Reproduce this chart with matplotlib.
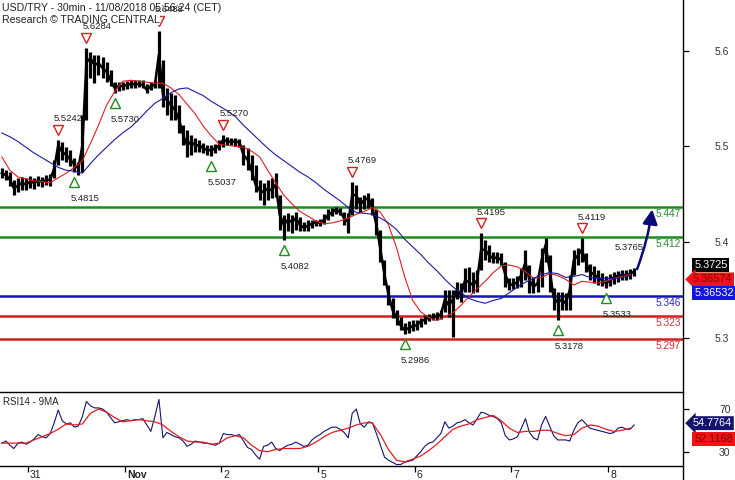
import numpy as np
import matplotlib
matplotlib.use("Agg")
import matplotlib.pyplot as plt
from matplotlib import transforms
from matplotlib.lines import Line2D
from matplotlib.patches import FancyArrowPatch

plt.rcParams['font.family'] = ['Liberation Sans', 'DejaVu Sans']

# ---------------- data ----------------
START_HOUR = -6.5          # first (hourly) bar, hours from Oct 31 00:00
closes = [5.472, 5.470, 5.465, 5.456, 5.459, 5.462, 5.460, 5.463, 5.462, 5.464,
          5.463, 5.465, 5.465, 5.477, 5.501, 5.494, 5.491, 5.486, 5.481, 5.477,
          5.501, 5.588, 5.592, 5.585, 5.587, 5.582, 5.578, 5.569, 5.561, 5.563,
          5.563, 5.564, 5.565, 5.565, 5.565, 5.564, 5.559, 5.563, 5.564, 5.596,
          5.554, 5.548, 5.543, 5.538, 5.528, 5.512, 5.501, 5.505, 5.501, 5.501,
          5.498, 5.496, 5.496, 5.498, 5.501, 5.507, 5.505, 5.505, 5.505, 5.504,
          5.491, 5.486, 5.475, 5.460, 5.454, 5.452, 5.456, 5.454, 5.460, 5.428,
          5.418, 5.423, 5.421, 5.425, 5.418, 5.415, 5.417, 5.419, 5.421, 5.420,
          5.423, 5.428, 5.431, 5.434, 5.431, 5.425, 5.421, 5.449, 5.449, 5.439,
          5.444, 5.446, 5.436, 5.418, 5.392, 5.366, 5.345, 5.329, 5.321, 5.313,
          5.308, 5.310, 5.312, 5.313, 5.317, 5.319, 5.321, 5.321, 5.323, 5.324,
          5.340, 5.334, 5.340, 5.350, 5.345, 5.360, 5.358, 5.355, 5.360, 5.392,
          5.392, 5.386, 5.383, 5.384, 5.381, 5.366, 5.355, 5.356, 5.358, 5.366,
          5.379, 5.360, 5.353, 5.357, 5.381, 5.397, 5.371, 5.342, 5.337, 5.340,
          5.336, 5.350, 5.381, 5.386, 5.392, 5.379, 5.369, 5.366, 5.363, 5.360,
          5.357, 5.360, 5.363, 5.365, 5.366, 5.365, 5.367, 5.369]
highs = [5.477, 5.475, 5.473, 5.465, 5.467, 5.468, 5.467, 5.469, 5.467, 5.469,
         5.468, 5.470, 5.471, 5.486, 5.507, 5.504, 5.499, 5.496, 5.488, 5.484,
         5.533, 5.603, 5.599, 5.595, 5.595, 5.593, 5.588, 5.580, 5.567, 5.567,
         5.567, 5.568, 5.569, 5.569, 5.569, 5.569, 5.565, 5.567, 5.569, 5.621,
         5.590, 5.561, 5.556, 5.554, 5.543, 5.522, 5.517, 5.512, 5.509, 5.507,
         5.503, 5.501, 5.501, 5.502, 5.507, 5.512, 5.510, 5.509, 5.509, 5.508,
         5.501, 5.498, 5.491, 5.481, 5.465, 5.462, 5.465, 5.467, 5.472, 5.449,
         5.428, 5.430, 5.428, 5.431, 5.426, 5.421, 5.423, 5.423, 5.423, 5.424,
         5.429, 5.434, 5.436, 5.437, 5.436, 5.431, 5.430, 5.463, 5.460, 5.447,
         5.449, 5.451, 5.446, 5.434, 5.413, 5.381, 5.355, 5.342, 5.329, 5.322,
         5.315, 5.317, 5.319, 5.319, 5.321, 5.324, 5.325, 5.326, 5.327, 5.329,
         5.350, 5.350, 5.350, 5.358, 5.357, 5.373, 5.374, 5.369, 5.371, 5.409,
         5.402, 5.397, 5.390, 5.390, 5.389, 5.379, 5.362, 5.362, 5.365, 5.373,
         5.392, 5.376, 5.363, 5.366, 5.394, 5.404, 5.386, 5.352, 5.348, 5.348,
         5.347, 5.366, 5.392, 5.394, 5.404, 5.389, 5.377, 5.375, 5.371, 5.368,
         5.365, 5.367, 5.369, 5.370, 5.371, 5.371, 5.372, 5.373]
lows = [5.467, 5.465, 5.459, 5.449, 5.452, 5.454, 5.454, 5.456, 5.455, 5.459,
        5.458, 5.460, 5.459, 5.467, 5.481, 5.486, 5.484, 5.479, 5.473, 5.470,
        5.473, 5.528, 5.571, 5.566, 5.575, 5.571, 5.567, 5.563, 5.556, 5.558,
        5.559, 5.560, 5.561, 5.561, 5.562, 5.561, 5.556, 5.559, 5.561, 5.561,
        5.541, 5.533, 5.528, 5.528, 5.514, 5.501, 5.489, 5.491, 5.494, 5.494,
        5.493, 5.491, 5.490, 5.493, 5.496, 5.499, 5.501, 5.501, 5.500, 5.499,
        5.481, 5.475, 5.465, 5.452, 5.444, 5.439, 5.444, 5.446, 5.447, 5.413,
        5.402, 5.411, 5.409, 5.413, 5.411, 5.411, 5.411, 5.415, 5.417, 5.417,
        5.419, 5.423, 5.427, 5.429, 5.428, 5.418, 5.409, 5.428, 5.434, 5.431,
        5.434, 5.436, 5.428, 5.407, 5.379, 5.355, 5.334, 5.321, 5.313, 5.308,
        5.304, 5.305, 5.307, 5.308, 5.311, 5.314, 5.317, 5.318, 5.319, 5.320,
        5.327, 5.322, 5.301, 5.340, 5.337, 5.348, 5.348, 5.347, 5.348, 5.371,
        5.381, 5.379, 5.378, 5.378, 5.376, 5.353, 5.350, 5.351, 5.352, 5.353,
        5.360, 5.347, 5.347, 5.348, 5.353, 5.379, 5.348, 5.329, 5.319, 5.329,
        5.329, 5.329, 5.366, 5.376, 5.379, 5.369, 5.360, 5.357, 5.355, 5.354,
        5.352, 5.354, 5.356, 5.358, 5.360, 5.360, 5.361, 5.364]
# moving averages (sampled every second bar)
ma_fast = [5.489, 5.475, 5.468, 5.466, 5.464, 5.463, 5.462, 5.467, 5.472, 5.478,
           5.485, 5.503, 5.522, 5.543, 5.557, 5.568, 5.569, 5.568, 5.567, 5.566,
           5.566, 5.561, 5.554, 5.544, 5.534, 5.521, 5.511, 5.502, 5.501, 5.500,
           5.499, 5.495, 5.489, 5.475, 5.462, 5.449, 5.440, 5.432, 5.427, 5.422,
           5.419, 5.420, 5.422, 5.425, 5.429, 5.432, 5.436, 5.431, 5.418, 5.394,
           5.364, 5.339, 5.327, 5.321, 5.318, 5.322, 5.326, 5.334, 5.343, 5.351,
           5.359, 5.368, 5.375, 5.376, 5.374, 5.369, 5.362, 5.363, 5.367, 5.365,
           5.361, 5.355, 5.359, 5.358, 5.357, 5.359, 5.362, 5.364, 5.366]
ma_slow = [5.514, 5.510, 5.505, 5.499, 5.493, 5.488, 5.483, 5.478, 5.475, 5.474,
           5.472, 5.482, 5.491, 5.499, 5.507, 5.514, 5.520, 5.528, 5.537, 5.545,
           5.550, 5.556, 5.560, 5.561, 5.557, 5.553, 5.547, 5.542, 5.537, 5.531,
           5.522, 5.514, 5.506, 5.498, 5.491, 5.485, 5.479, 5.473, 5.468, 5.462,
           5.455, 5.449, 5.443, 5.436, 5.431, 5.430, 5.429, 5.425, 5.420, 5.413,
           5.403, 5.395, 5.387, 5.378, 5.370, 5.361, 5.353, 5.347, 5.341, 5.338,
           5.336, 5.339, 5.341, 5.347, 5.353, 5.358, 5.362, 5.366, 5.368, 5.367,
           5.363, 5.364, 5.366, 5.363, 5.362, 5.362, 5.362, 5.363, 5.365]
rsi = [38, 40, 36, 33, 38, 39, 37, 39, 42, 46,
       44, 43, 47, 57, 69, 59, 56, 57, 53, 54,
       63, 77, 73, 71, 71, 70, 67, 62, 57, 58,
       59, 60, 59, 60, 60, 61, 55, 49, 63, 79,
       43, 48, 46, 44, 43, 40, 35, 37, 40, 39,
       38, 38, 37, 36, 38, 47, 46, 46, 45, 46,
       40, 34, 32, 27, 23, 35, 36, 39, 33, 31,
       34, 36, 37, 39, 37, 35, 36, 41, 44, 46,
       49, 51, 53, 53, 51, 48, 43, 66, 70, 56,
       53, 58, 57, 47, 36, 25, 22, 20, 18, 18,
       20, 21, 22, 26, 30, 35, 38, 39, 43, 47,
       58, 52, 54, 57, 58, 60, 57, 55, 61, 67,
       66, 64, 63, 61, 57, 45, 41, 42, 44, 52,
       61, 48, 43, 41, 55, 63, 54, 45, 41, 41,
       41, 40, 50, 57, 60, 56, 52, 51, 50, 49,
       48, 47, 48, 52, 53, 51, 51, 55]
rsi_ma = [38, 38, 38, 38, 41, 44, 47, 51, 56, 55,
          56, 66, 70, 67, 62, 58, 59, 60, 59, 58,
          55, 49, 44, 40, 39, 39, 37, 38, 43, 45,
          43, 36, 31, 30, 32, 33, 33, 33, 35, 39,
          44, 48, 50, 52, 55, 57, 57, 46, 32, 22,
          20.5, 23, 26, 31, 37, 44, 51, 54, 56, 60,
          62, 64, 59, 52, 48, 49, 49, 50, 50, 47,
          45, 46, 52, 55, 54, 51, 49, 50, 52]

levels = [5.437, 5.405, 5.344, 5.323, 5.299]
level_labels = ["5.447", "5.412", "5.346", "5.323", "5.297"]
level_colors = ["#1e8c1e", "#1e8c1e", "#1414b4", "#d21e1e", "#d21e1e"]
level_text_colors = ["#2a8a2a", "#2a8a2a", "#2828c8", "#d23232", "#d23232"]

# swing markers: (bar index, 'H' high / 'L' low, label)
swings = [(14, 'H', "5.5242"), (21, 'H', "5.6284"), (39, 'H', "5.6488"),
          (55, 'H', "5.5270"), (87, 'H', "5.4769"), (119, 'H', "5.4195"),
          (144, 'H', "5.4119"),
          (18, 'L', "5.4815"), (28, 'L', "5.5730"), (52, 'L', "5.5037"),
          (70, 'L', "5.4082"), (100, 'L', "5.2986"), (138, 'L', "5.3178"),
          (150, 'L', "5.3533")]

day_ticks = [0, 1, 2, 3, 4, 5, 6]
day_labels = ["31", "Nov", "2", "5", "6", "7", "8"]
price_ticks = [5.3, 5.4, 5.5, 5.6]
rsi_ticks = [30, 70]
last_price, last_fast, last_slow = "5.3725", "5.36574", "5.36532"
last_rsi, last_rsi_ma = "54.7764", "52.1168"

# ---------------- figure ----------------
W, H = 735, 480
fig = plt.figure(figsize=(W / 100, H / 100), dpi=100)
AX_R = 683
ax = fig.add_axes([0, (H - 385) / H, AX_R / W, 385 / H])
ax2 = fig.add_axes([0, (H - 466) / H, AX_R / W, (466 - 392) / H])

n = len(closes)
t = (np.arange(n) + START_HOUR) / 24.0
t2 = t[::2]

for lv, col in zip(levels, level_colors):
    ax.axhline(lv, color=col, lw=1.8, zorder=1)

ax.vlines(t, lows, highs, color='black', lw=2.3, zorder=2)
ax.plot(t, closes, color='black', lw=1.8, zorder=2)
ax.plot(t2, ma_fast, color='#e01e1e', lw=0.8, zorder=3)
ax.plot(t2, ma_slow, color='#1c1c9c', lw=0.8, zorder=3)

for lab, lv, tc in zip(level_labels, levels, level_text_colors):
    ax.annotate(lab, xy=(0.997, lv), xycoords=('axes fraction', 'data'),
                xytext=(0, -1.5), textcoords='offset points',
                ha='right', va='top', fontsize=7.3, color=tc, zorder=5)

for k, kind, lab in swings:
    if kind == 'H':
        y = highs[k]
        tr = transforms.offset_copy(ax.transData, fig=fig, y=10, units='dots')
        ax.plot(t[k], y, marker='v', ms=6.8, mfc='white', mec='#d21e1e', mew=1.0,
                transform=tr, zorder=6)
        ax.annotate(lab, xy=(t[k], y), xytext=(-3, 12), textcoords='offset points',
                    ha='left', va='bottom', fontsize=6.8, color='#222222', zorder=7)
    else:
        y = lows[k]
        tr = transforms.offset_copy(ax.transData, fig=fig, y=-10, units='dots')
        ax.plot(t[k], y, marker='^', ms=6.8, mfc='white', mec='#1e8c1e', mew=1.0,
                transform=tr, zorder=6)
        ax.annotate(lab, xy=(t[k], y), xytext=(-2.5, -16), textcoords='offset points',
                    ha='left', va='top', fontsize=6.8, color='#222222', zorder=7)

ax.annotate("5.3765", xy=(t[-1], closes[-1]), xytext=(-14, 14),
            textcoords='offset points', ha='left', va='bottom', fontsize=6.8,
            color='#222222', zorder=7)

arrow = FancyArrowPatch((t[-1] + 0.02, closes[-1]), (t[-1] + 0.19, levels[0]),
                        connectionstyle='arc3,rad=0.06',
                        arrowstyle='-|>,head_length=0.55,head_width=0.28',
                        mutation_scale=16, color='#0a0a78', lw=1.8, zorder=8)
ax.add_patch(arrow)

ax.set_xlim(-0.2897, 6.7757)
ax.set_ylim(5.2506, 5.6529)
ax2.set_xlim(-0.2897, 6.7757)
ax2.set_ylim(16.6, 85.9)

for a in (ax, ax2):
    a.spines['left'].set_visible(False)
    a.spines['right'].set_visible(False)
    a.yaxis.tick_right()
for s in ('top', 'bottom'):
    ax.spines[s].set_visible(False)
    ax2.spines[s].set_linewidth(1.0)

ax.set_xticks([])
ax.set_yticks(price_ticks)
ax.set_yticklabels([f"{v:.1f}" for v in price_ticks])
ax.tick_params(axis='y', length=4, width=0.9, pad=19, labelsize=7.5,
               labelcolor='#333333')

ax2.plot(t, rsi, color='#14146e', lw=0.8)
ax2.plot(t2, rsi_ma, color='#e01e1e', lw=0.9)
ax2.set_yticks(rsi_ticks)
ax2.set_yticklabels([str(v) for v in rsi_ticks])
ax2.tick_params(axis='y', length=4, width=0.9, pad=22, labelsize=7.5,
                labelcolor='#333333')
ax2.set_xticks(day_ticks)
ax2.set_xticklabels([])
ax2.tick_params(axis='x', length=4.5, width=0.9, direction='out')
for d, lab in zip(day_ticks, day_labels):
    ax2.annotate(lab, xy=(d, 0), xycoords=('data', 'axes fraction'),
                 xytext=(1.5, -3), textcoords='offset points', ha='left', va='top',
                 fontsize=7.5, color='#222222',
                 fontweight='bold' if lab == 'Nov' else 'normal')
ax2.text(0.004, 0.93, "RSI14 - 9MA", transform=ax2.transAxes, ha='left', va='top',
         fontsize=7, color='#222222')

# full-height right axis line
fig.add_artist(Line2D([AX_R / W, AX_R / W], [0, 1], transform=fig.transFigure,
                      color='black', lw=1.0))

# value badges on the right
def badge(axis, val_text, yval, dy, fc, tc, arrow_style=False):
    bs = 'larrow,pad=0.18' if arrow_style else 'square,pad=0.18'
    axis.annotate(val_text, xy=(1.0, yval), xycoords=('axes fraction', 'data'),
                  xytext=(8 if not arrow_style else 7, dy), textcoords='offset points',
                  ha='left', va='center', fontsize=7.8, color=tc, annotation_clip=False,
                  bbox=dict(boxstyle=bs, fc=fc, ec='none'), zorder=10)

badge(ax, last_price, float(last_price), 2.6, 'black', 'white')
badge(ax, last_fast, float(last_fast), -3.3, '#f01414', '#7a0000', True)
badge(ax, last_slow, float(last_slow), -12.7, '#1414e6', 'white')
badge(ax2, last_rsi, float(last_rsi), 1.5, '#14146e', 'white', True)
badge(ax2, last_rsi_ma, float(last_rsi_ma), -8, '#f01414', '#7a0000')

# header (drawn inside the price panel, between markers and their labels)
ax.text(2 / W, 1 - 8 / H, "USD/TRY - 30min - 11/08/2018 05:56:24 (CET)",
        transform=fig.transFigure, ha='left', va='center', fontsize=7.6,
        color='#222222', zorder=6.5)
ax.text(2 / W, 1 - 20 / H, "Research \u00a9 TRADING CENTRAL",
        transform=fig.transFigure, ha='left', va='center', fontsize=7.6,
        color='#222222', zorder=6.5,
        bbox=dict(boxstyle='square,pad=0.0', fc='white', ec='none'))

fig.savefig("out.png", dpi=100)
